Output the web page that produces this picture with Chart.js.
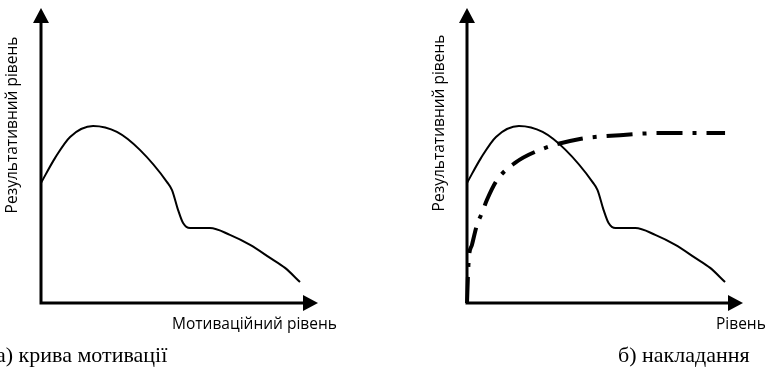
<!DOCTYPE html>
<html>
<head>
<meta charset="utf-8">
<script src="https://cdn.jsdelivr.net/npm/chart.js@4"></script>
<style>
  body { margin: 0; background: #fff; }
  .wrap { position: absolute; top: 0; height: 372px; }
</style>
</head>
<body>
<div class="wrap" style="left:0;width:385px"><canvas id="chartA"></canvas></div>
<div class="wrap" style="left:385px;width:386px"><canvas id="chartB"></canvas></div>
<script>
// motivation curve (axes 0..100)
var motivX = [0, 5.1, 10.5, 18.8, 27.4, 35.7, 45.5, 47.3, 49.5, 51.3, 53.8, 61.0, 68.2, 75.5, 82.7, 88.1, 93.5];
var motivY = [40.7, 49.2, 56.3, 60.0, 58.0, 51.9, 41.0, 38.3, 31.5, 27.1, 25.4, 25.4, 23.1, 19.7, 15.3, 11.9, 7.1];
// overlay curve (dash-dot)
var levelX = [0, 0.4, 0.7, 1.8, 3.6, 5.4, 7.2, 10.9, 17.4, 26.4, 40.9, 55.4, 69.9, 84.4, 93.5];
var levelY = [0, 10.5, 15.6, 19.7, 26.4, 30.5, 34.9, 41.7, 47.5, 51.9, 55.6, 56.9, 57.6, 57.6, 57.6];

var yTitle = 'Результативний рівень';
var xTitleA = 'Мотиваційний рівень';
var xTitleB = 'Рівень';
var captionA = 'а) крива мотивації';
var captionB = 'б) накладання';

function toPoints(xs, ys) {
    return xs.map(function (x, i) { return { x: x, y: ys[i] }; });
}

var axesArrows = {
    id: 'axesArrows',
    afterDatasetsDraw: function (chart, args, opts) {
        var c = chart.ctx, a = chart.chartArea;
        c.save();
        c.strokeStyle = '#000';
        c.fillStyle = '#000';
        c.lineWidth = 3;
        c.beginPath();
        c.moveTo(a.left, a.top + 10);
        c.lineTo(a.left, a.bottom);
        c.lineTo(a.right - 10, a.bottom);
        c.stroke();
        // arrow heads
        c.beginPath();
        c.moveTo(a.left, a.top);
        c.lineTo(a.left - 8, a.top + 15);
        c.lineTo(a.left + 8, a.top + 15);
        c.closePath();
        c.fill();
        c.beginPath();
        c.moveTo(a.right, a.bottom);
        c.lineTo(a.right - 15, a.bottom - 8);
        c.lineTo(a.right - 15, a.bottom + 8);
        c.closePath();
        c.fill();
        // y title
        c.font = '15.5px "Open Sans"';
        c.textAlign = 'center';
        c.textBaseline = 'middle';
        c.save();
        c.translate(opts.yTitleX, opts.yTitleY);
        c.rotate(-Math.PI / 2);
        c.fillText(yTitle, 0, 0);
        c.restore();
        // x title
        c.textAlign = 'left';
        c.fillText(opts.xTitle, opts.xTitleX, opts.xTitleY);
        // caption
        c.font = '22px "Liberation Serif"';
        c.textBaseline = 'alphabetic';
        c.fillText(opts.caption, opts.capX, opts.capY);
        c.restore();
    }
};

var solidStyle = {
    borderColor: '#000',
    borderWidth: 2,
    pointRadius: 0,
    cubicInterpolationMode: 'monotone',
    fill: false,
    clip: false
};

function baseOptions(pad, plug) {
    return {
        responsive: false,
        animation: false,
        layout: { padding: pad },
        scales: {
            x: { type: 'linear', min: 0, max: 100, display: false },
            y: { type: 'linear', min: 0, max: 100, display: false }
        },
        plugins: {
            legend: { display: false },
            tooltip: { enabled: false },
            axesArrows: plug
        }
    };
}

var cA = document.getElementById('chartA');
cA.width = 385; cA.height = 372;
new Chart(cA.getContext('2d'), {
    type: 'line',
    data: {
        datasets: [Object.assign({ label: 'Мотивація', data: toPoints(motivX, motivY) }, solidStyle)]
    },
    options: baseOptions({ left: 41, right: 67, top: 8, bottom: 69 },
        { yTitleX: 13, yTitleY: 125, xTitle: xTitleA, xTitleX: 172, xTitleY: 325, caption: captionA, capX: -4, capY: 362 }),
    plugins: [axesArrows]
});

var cB = document.getElementById('chartB');
cB.width = 386; cB.height = 372;
new Chart(cB.getContext('2d'), {
    type: 'line',
    data: {
        datasets: [
            Object.assign({ label: 'Мотивація', data: toPoints(motivX, motivY) }, solidStyle),
            {
                label: 'Рівень',
                data: toPoints(levelX, levelY),
                borderColor: '#000',
                borderWidth: 4,
                borderDash: [26, 10, 4, 10],
                pointRadius: 0,
                cubicInterpolationMode: 'monotone',
                fill: false,
                clip: false
            }
        ]
    },
    options: baseOptions({ left: 82, right: 28, top: 8, bottom: 69 },
        { yTitleX: 55, yTitleY: 123, xTitle: xTitleB, xTitleX: 331, xTitleY: 325, caption: captionB, capX: 233, capY: 362 }),
    plugins: [axesArrows]
});
</script>
</body>
</html>
